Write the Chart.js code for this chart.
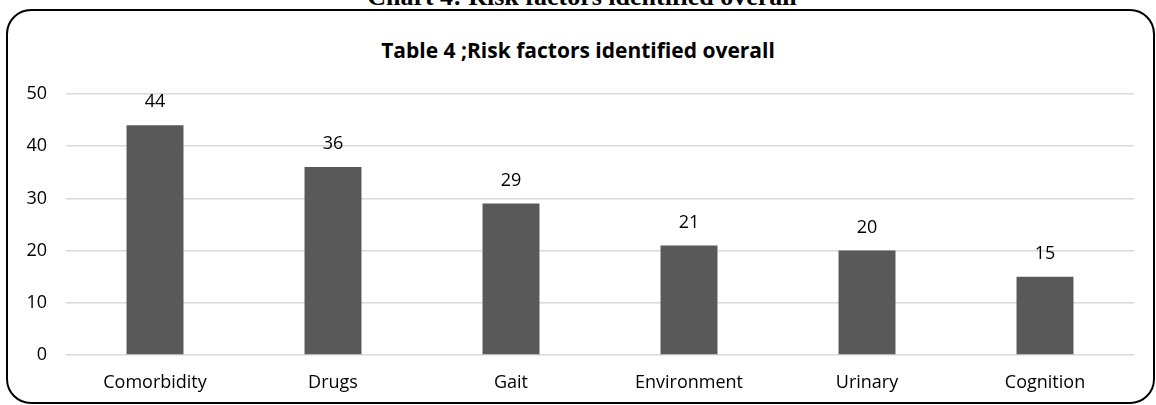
<!DOCTYPE html>
<html>
<head>
<meta charset="utf-8">
<script src="https://cdn.jsdelivr.net/npm/chart.js@4/dist/chart.umd.min.js"></script>
<style>
  html, body { margin: 0; padding: 0; background: #fff; overflow: hidden; }
  #wrap { position: relative; width: 1156px; height: 405px; overflow: hidden; }
  #caption { position: absolute; left: 4px; width: 1156px; top: -16px; text-align: center;
    font: bold 26px "Liberation Serif", "Times New Roman", serif; color: #000; line-height: 26px; }
  #frame { position: absolute; left: 6px; top: 9px; width: 1145px; height: 391px;
    border: 2px solid #000; border-radius: 25px; }
  #title { position: absolute; left: 0; width: 1156px; top: 36px; text-align: center;
    font: bold 21px "Open Sans", sans-serif; color: #000; line-height: 28px; }
  canvas { position: absolute; left: 0; top: 0; }
</style>
</head>
<body>
<div id="wrap">
  <div id="caption">Chart 4: Risk factors identified overall</div>
  <div id="frame"></div>
  <div id="title">Table 4 ;Risk factors identified overall</div>
  <canvas id="c" width="1156" height="405"></canvas>
</div>
<script>
const categories = ["Comorbidity", "Drugs", "Gait", "Environment", "Urinary", "Cognition"];
const counts = [44, 36, 29, 21, 20, 15];
const yTicks = [0, 10, 20, 30, 40, 50];

// value labels above each bar
const valueLabels = {
  id: 'valueLabels',
  afterDatasetsDraw(chart) {
    const ctx = chart.ctx;
    const meta = chart.getDatasetMeta(0);
    ctx.save();
    ctx.font = '18px "Open Sans", sans-serif';
    ctx.fillStyle = '#000';
    ctx.textAlign = 'center';
    ctx.textBaseline = 'middle';
    meta.data.forEach((bar, i) => {
      ctx.fillText(String(counts[i]), bar.x, bar.y - 23);
    });
    ctx.restore();
  }
};

new Chart(document.getElementById('c'), {
  type: 'bar',
  data: {
    labels: categories,
    datasets: [{
      data: counts,
      backgroundColor: '#595959',
      borderWidth: 0,
      categoryPercentage: 1,
      barPercentage: 0.32
    }]
  },
  options: {
    responsive: false,
    animation: false,
    layout: { padding: { top: 94, right: 22, bottom: 0, left: 0 } },
    plugins: { legend: { display: false }, tooltip: { enabled: false }, title: { display: false } },
    scales: {
      x: {
        grid: { display: false, drawTicks: false },
        border: { display: false },
        ticks: { color: '#000', font: { family: '"Open Sans", sans-serif', size: 18 }, padding: 17 },
        afterFit(s) { s.height = 50; }
      },
      y: {
        min: 0, max: 50,
        afterBuildTicks(s) { s.ticks = yTicks.map(v => ({ value: v })); },
        grid: { color: '#d9d9d9', lineWidth: 1.5, drawTicks: false },
        border: { display: false },
        ticks: { color: '#000', font: { family: '"Open Sans", sans-serif', size: 18 }, padding: 19 },
        afterFit(s) { s.width = 66; }
      }
    }
  },
  plugins: [valueLabels]
});
</script>
</body>
</html>
